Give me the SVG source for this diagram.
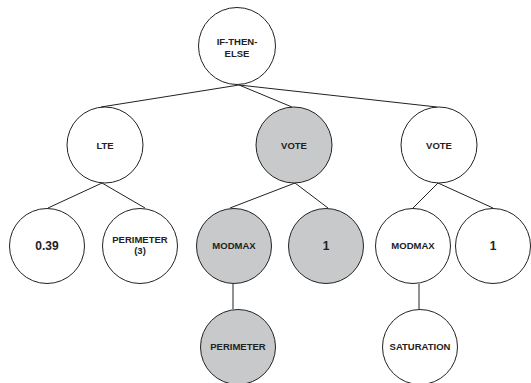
<svg xmlns="http://www.w3.org/2000/svg" width="531" height="383" viewBox="0 0 531 383">
<style>
.n{fill:#fff;stroke:#222;stroke-width:1}
.g{fill:#c8c9cb;stroke:#222;stroke-width:1}
.t{font-family:"Liberation Sans",Arial,sans-serif;font-weight:bold;font-size:9.5px;fill:#222;text-anchor:middle}
.b{font-size:12px}
#edges line{stroke:#222;stroke-width:1}
</style>
<rect width="531" height="383" fill="#fff"/>
<g id="edges">
<line x1="239" y1="85" x2="101" y2="107"/>
<line x1="239" y1="85" x2="292" y2="107"/>
<line x1="239" y1="85" x2="437" y2="107"/>
<line x1="102" y1="183" x2="48" y2="208"/>
<line x1="102" y1="183" x2="145" y2="208"/>
<line x1="295" y1="183" x2="230" y2="208"/>
<line x1="295" y1="183" x2="328" y2="208"/>
<line x1="438" y1="183" x2="413" y2="208"/>
<line x1="438" y1="183" x2="493" y2="208"/>
<line x1="233" y1="284" x2="233" y2="309"/>
<line x1="419" y1="284" x2="419" y2="309"/>
</g>
<g id="n-root"><circle class="n" cx="237" cy="46" r="38.5"/><text class="t" x="237" y="45">IF-THEN-</text><text class="t" x="237" y="57">ELSE</text></g>
<g id="n-lte"><circle class="n" cx="105" cy="145" r="38"/><text class="t" x="105" y="148.5">LTE</text></g>
<g id="n-vote1"><circle class="g" cx="294" cy="145" r="38"/><text class="t" x="294" y="148.5">VOTE</text></g>
<g id="n-vote2"><circle class="n" cx="439" cy="145" r="38"/><text class="t" x="439" y="148.5">VOTE</text></g>
<g id="n-039"><circle class="n" cx="47" cy="246" r="37.5"/><text class="t b" x="47" y="250">0.39</text></g>
<g id="n-perim3"><circle class="n" cx="140" cy="246" r="37.5"/><text class="t" x="140" y="243">PERIMETER</text><text class="t" x="140" y="254">(3)</text></g>
<g id="n-modmax1"><circle class="g" cx="234" cy="246" r="37.5"/><text class="t" x="234" y="249">MODMAX</text></g>
<g id="n-one1"><circle class="g" cx="326" cy="246" r="37.5"/><text class="t b" x="326" y="250">1</text></g>
<g id="n-modmax2"><circle class="n" cx="413" cy="246" r="37.5"/><text class="t" x="413" y="249">MODMAX</text></g>
<g id="n-one2"><circle class="n" cx="493" cy="246" r="37.5"/><text class="t b" x="493" y="250">1</text></g>
<g id="n-perim"><circle class="g" cx="238" cy="347" r="37.5"/><text class="t" x="238" y="350">PERIMETER</text></g>
<g id="n-sat"><circle class="n" cx="420" cy="347" r="37.5"/><text class="t" x="420" y="350">SATURATION</text></g>
</svg>
